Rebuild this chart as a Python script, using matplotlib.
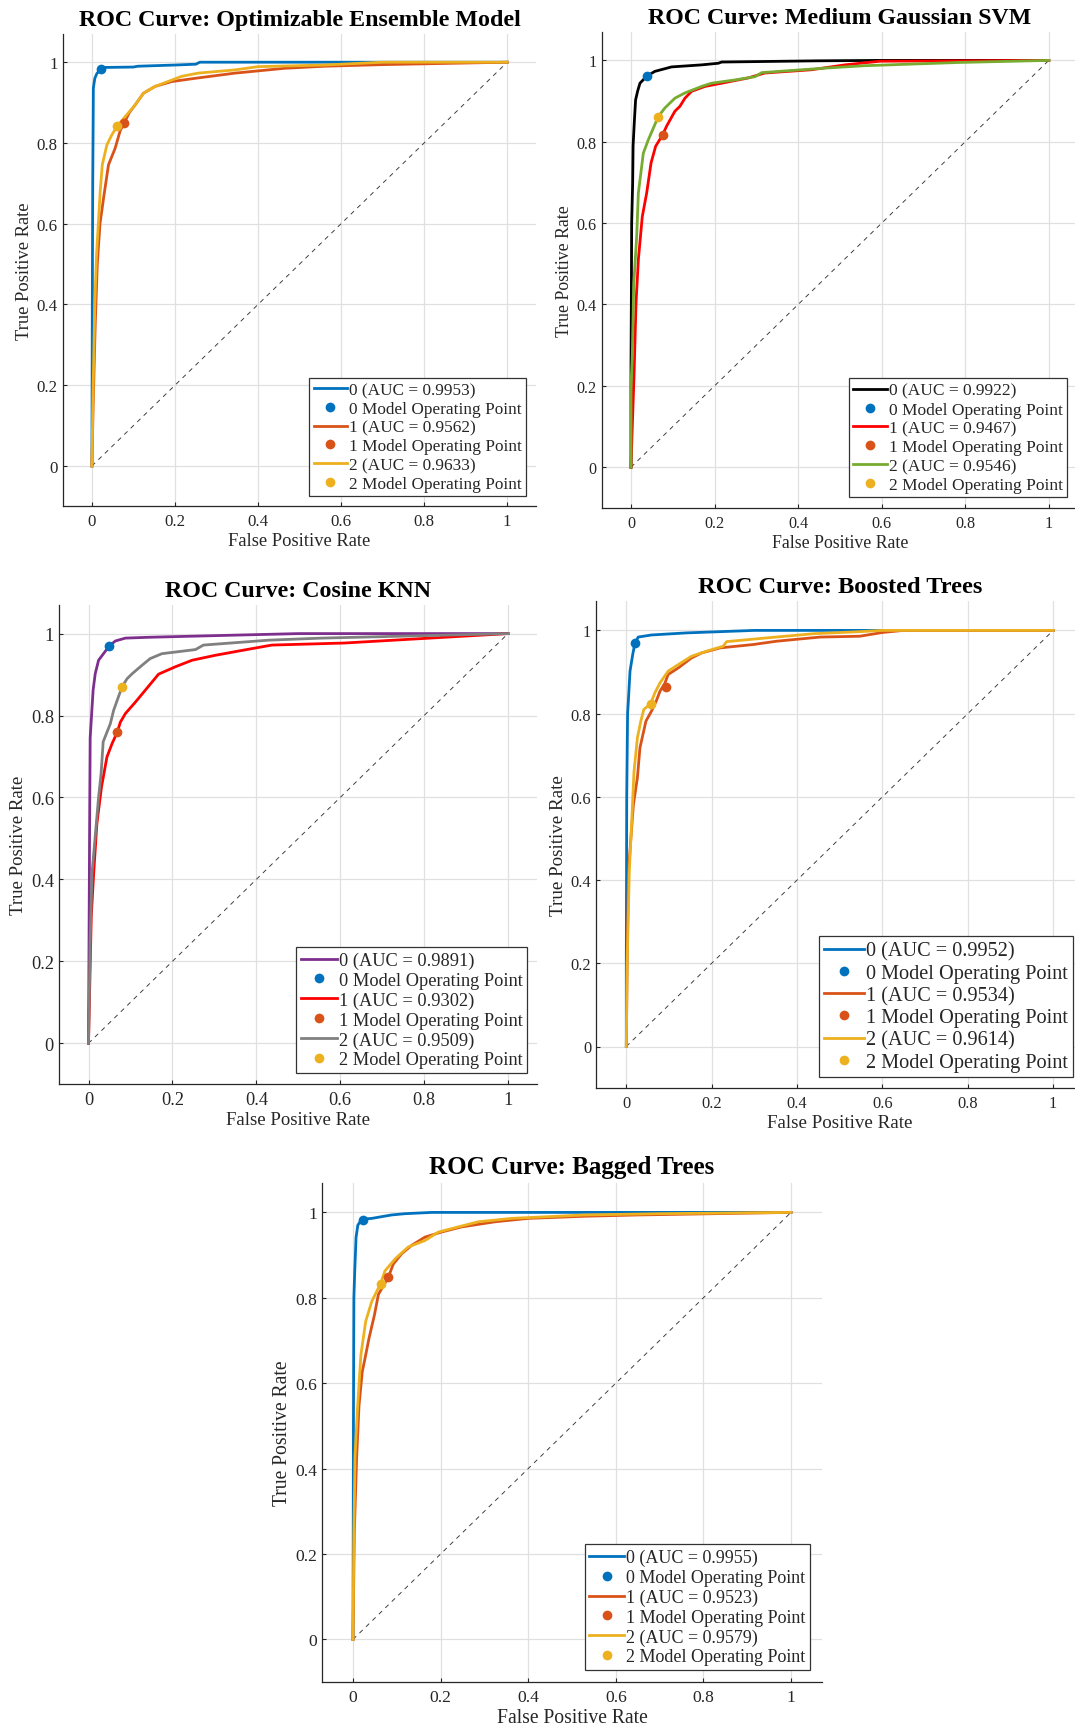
import matplotlib
matplotlib.use("Agg")
import matplotlib.pyplot as plt

plt.rcParams['font.family'] = ['Liberation Serif', 'DejaVu Serif']

# ---------------- data ----------------
titles = ["ROC Curve: Optimizable Ensemble Model", "ROC Curve: Medium Gaussian SVM",
          "ROC Curve: Cosine KNN", "ROC Curve: Boosted Trees", "ROC Curve: Bagged Trees"]
class_names = ["0", "1", "2"]

# Optimizable Ensemble
ens_fpr0 = [0, 0.001, 0.002, 0.003, 0.0035, 0.007, 0.012, 0.021, 0.030, 0.100, 0.110, 0.200, 0.250, 0.260, 1.0]
ens_tpr0 = [0, 0.40, 0.70, 0.85, 0.936, 0.960, 0.972, 0.983, 0.987, 0.988, 0.990, 0.993, 0.995, 1.0, 1.0]
ens_fpr1 = [0, 0.003, 0.008, 0.013, 0.0195, 0.029, 0.040, 0.056, 0.068, 0.078, 0.090, 0.104, 0.124, 0.152, 0.192, 0.248, 0.345, 0.465, 0.560, 0.700, 0.850, 1.0]
ens_tpr1 = [0, 0.15, 0.35, 0.50, 0.60, 0.67, 0.746, 0.787, 0.83, 0.85, 0.875, 0.894, 0.923, 0.94, 0.952, 0.96, 0.973, 0.985, 0.99, 0.994, 0.997, 1.0]
ens_fpr2 = [0, 0.003, 0.007, 0.011, 0.0155, 0.020, 0.025, 0.036, 0.048, 0.061, 0.084, 0.104, 0.124, 0.152, 0.188, 0.216, 0.256, 0.345, 0.40, 0.56, 0.70, 1.0]
ens_tpr2 = [0, 0.2, 0.4, 0.52, 0.60, 0.68, 0.746, 0.795, 0.82, 0.842, 0.87, 0.894, 0.923, 0.94, 0.954, 0.965, 0.973, 0.981, 0.989, 0.993, 1.0, 1.0]
ens_auc = [0.9953, 0.9562, 0.9633]
ens_op_fpr = [0.021, 0.078, 0.061]
ens_op_tpr = [0.983, 0.850, 0.842]

# Medium Gaussian SVM
svm_fpr0 = [0, 0, 0.0008, 0.0016, 0.004, 0.005, 0.008, 0.011, 0.016, 0.0215, 0.0375, 0.057, 0.097, 0.169, 0.209, 0.217, 0.45, 0.60, 1.0]
svm_tpr0 = [0, 0.25, 0.40, 0.60, 0.70, 0.79, 0.85, 0.903, 0.925, 0.944, 0.961, 0.973, 0.984, 0.989, 0.993, 0.996, 0.999, 1.0, 1.0]
svm_fpr1 = [0, 0.003, 0.0074, 0.012, 0.0176, 0.027, 0.0375, 0.048, 0.059, 0.0758, 0.085, 0.105, 0.117, 0.129, 0.145, 0.177, 0.217, 0.281, 0.32, 0.432, 0.512, 0.596, 1.0]
svm_tpr1 = [0, 0.097, 0.23, 0.403, 0.51, 0.616, 0.674, 0.748, 0.789, 0.817, 0.838, 0.875, 0.887, 0.907, 0.924, 0.936, 0.944, 0.957, 0.969, 0.977, 0.989, 0.998, 1.0]
svm_fpr2 = [0, 0, 0.003, 0.0056, 0.0066, 0.0136, 0.0176, 0.0295, 0.0415, 0.0654, 0.081, 0.105, 0.129, 0.169, 0.193, 0.249, 0.297, 0.313, 0.464, 0.56, 0.787, 1.0]
svm_tpr2 = [0, 0.2, 0.27, 0.403, 0.45, 0.567, 0.674, 0.772, 0.805, 0.862, 0.883, 0.907, 0.92, 0.936, 0.944, 0.952, 0.96, 0.97, 0.981, 0.987, 0.995, 1.0]
svm_auc = [0.9922, 0.9467, 0.9546]
svm_op_fpr = [0.0375, 0.0758, 0.0654]
svm_op_tpr = [0.961, 0.817, 0.862]

# Cosine KNN
knn_fpr0 = [0, 0.0025, 0.004, 0.011, 0.016, 0.024, 0.0497, 0.064, 0.088, 0.143, 0.30, 0.50, 1.0]
knn_tpr0 = [0, 0.5, 0.746, 0.862, 0.902, 0.935, 0.970, 0.982, 0.989, 0.991, 0.995, 1.0, 1.0]
knn_fpr1 = [0, 0.0066, 0.0123, 0.020, 0.031, 0.044, 0.056, 0.0687, 0.076, 0.088, 0.112, 0.167, 0.207, 0.247, 0.302, 0.366, 0.437, 0.61, 1.0]
knn_tpr1 = [0, 0.31, 0.414, 0.536, 0.626, 0.699, 0.731, 0.76, 0.784, 0.805, 0.833, 0.901, 0.919, 0.935, 0.947, 0.959, 0.972, 0.977, 1.0]
knn_fpr2 = [0, 0.004, 0.0083, 0.024, 0.030, 0.035, 0.052, 0.060, 0.0799, 0.092, 0.104, 0.128, 0.147, 0.175, 0.207, 0.255, 0.274, 0.326, 0.43, 0.556, 1.0]
knn_tpr2 = [0, 0.25, 0.414, 0.60, 0.658, 0.736, 0.78, 0.813, 0.87, 0.89, 0.902, 0.923, 0.939, 0.951, 0.955, 0.961, 0.972, 0.976, 0.984, 0.989, 1.0]
knn_auc = [0.9891, 0.9302, 0.9509]
knn_op_fpr = [0.0497, 0.0687, 0.0799]
knn_op_tpr = [0.970, 0.760, 0.870]

# Boosted Trees
bst_fpr0 = [0, 0, 0.001, 0.003, 0.0048, 0.0087, 0.015, 0.0204, 0.028, 0.059, 0.141, 0.30, 1.0]
bst_tpr0 = [0, 0.2, 0.6, 0.8, 0.83, 0.902, 0.942, 0.97, 0.984, 0.989, 0.994, 1.0, 1.0]
bst_fpr1 = [0, 0.002, 0.005, 0.0165, 0.026, 0.032, 0.046, 0.059, 0.07, 0.079, 0.09, 0.098, 0.122, 0.153, 0.177, 0.22, 0.297, 0.352, 0.454, 0.547, 0.60, 0.649, 1.0]
bst_tpr1 = [0, 0.2, 0.42, 0.58, 0.646, 0.718, 0.782, 0.806, 0.83, 0.854, 0.872, 0.894, 0.91, 0.934, 0.946, 0.958, 0.966, 0.974, 0.984, 0.986, 0.995, 1.0, 1.0]
bst_fpr2 = [0, 0.002, 0.007, 0.0126, 0.018, 0.026, 0.034, 0.041, 0.057, 0.067, 0.079, 0.098, 0.122, 0.153, 0.188, 0.227, 0.235, 0.329, 0.438, 0.547, 0.60, 1.0]
bst_tpr2 = [0, 0.2, 0.42, 0.54, 0.66, 0.742, 0.782, 0.81, 0.824, 0.85, 0.874, 0.902, 0.918, 0.938, 0.95, 0.962, 0.973, 0.982, 0.992, 0.997, 1.0, 1.0]
bst_auc = [0.9952, 0.9534, 0.9614]
bst_op_fpr = [0.0204, 0.0923, 0.057]
bst_op_tpr = [0.970, 0.863, 0.824]

# Bagged Trees
bag_fpr0 = [0, 0.001, 0.002, 0.004, 0.007, 0.011, 0.020, 0.043, 0.088, 0.119, 0.18, 1.0]
bag_tpr0 = [0, 0.5, 0.8, 0.863, 0.942, 0.97, 0.984, 0.986, 0.994, 0.997, 1.0, 1.0]
bag_fpr1 = [0, 0.003, 0.0084, 0.0137, 0.021, 0.029, 0.0365, 0.049, 0.058, 0.0806, 0.092, 0.111, 0.134, 0.164, 0.202, 0.248, 0.324, 0.40, 0.529, 0.65, 1.0]
bag_tpr1 = [0, 0.25, 0.428, 0.547, 0.626, 0.666, 0.705, 0.76, 0.808, 0.848, 0.879, 0.903, 0.923, 0.942, 0.954, 0.966, 0.978, 0.986, 0.991, 0.994, 1.0]
bag_fpr2 = [0, 0.002, 0.0046, 0.0106, 0.018, 0.029, 0.043, 0.063, 0.073, 0.096, 0.126, 0.164, 0.195, 0.24, 0.286, 0.362, 0.529, 0.70, 1.0]
bag_tpr2 = [0, 0.25, 0.428, 0.547, 0.666, 0.745, 0.792, 0.833, 0.863, 0.891, 0.919, 0.934, 0.954, 0.966, 0.978, 0.986, 0.994, 0.997, 1.0]
bag_auc = [0.9955, 0.9523, 0.9579]
bag_op_fpr = [0.022, 0.0806, 0.063]
bag_op_tpr = [0.983, 0.848, 0.833]

tick_vals = [0, 0.2, 0.4, 0.6, 0.8, 1]
tick_labels = ["0", "0.2", "0.4", "0.6", "0.8", "1"]

# ---------------- styling / layout ----------------
BLUE, ORANGE, YELLOW = "#0072BD", "#D95319", "#EDB120"
op_colors = [BLUE, ORANGE, YELLOW]
AX = "#262626"

W, H = 1075, 1733
fig = plt.figure(figsize=(W / 100, H / 100), dpi=100)

panels = [
    dict(title=titles[0], fprs=[ens_fpr0, ens_fpr1, ens_fpr2], tprs=[ens_tpr0, ens_tpr1, ens_tpr2],
         auc=ens_auc, opx=ens_op_fpr, opy=ens_op_tpr, colors=[BLUE, ORANGE, YELLOW],
         px=(91.9, 507.2, 467.0, 63.2), leg=(526, 497), fs_leg=12.4, fs_tick=12.2, fs_lab=13.3, fs_title=17.3),
    dict(title=titles[1], fprs=[svm_fpr0, svm_fpr1, svm_fpr2], tprs=[svm_tpr0, svm_tpr1, svm_tpr2],
         auc=svm_auc, opx=svm_op_fpr, opy=svm_op_tpr, colors=["#000000", "#FF0000", "#77AC30"],
         px=(631.0, 1048.8, 468.2, 61.4), leg=(1067, 498), fs_leg=12.5, fs_tick=11.6, fs_lab=12.8, fs_title=17.2),
    dict(title=titles[2], fprs=[knn_fpr0, knn_fpr1, knn_fpr2], tprs=[knn_tpr0, knn_tpr1, knn_tpr2],
         auc=knn_auc, opx=knn_op_fpr, opy=knn_op_tpr, colors=["#7E2F8E", "#FF0000", "#808080"],
         px=(88.5, 508.0, 1044.3, 634.6), leg=(527, 1074), fs_leg=13.2, fs_tick=13.2, fs_lab=13.5, fs_title=17.3),
    dict(title=titles[3], fprs=[bst_fpr0, bst_fpr1, bst_fpr2], tprs=[bst_tpr0, bst_tpr1, bst_tpr2],
         auc=bst_auc, opx=bst_op_fpr, opy=bst_op_tpr, colors=[BLUE, ORANGE, YELLOW],
         px=(626.3, 1053.2, 1047.5, 631.4), leg=(1073, 1078), fs_leg=14.6, fs_tick=11.8, fs_lab=13.7, fs_title=17.6),
    dict(title=titles[4], fprs=[bag_fpr0, bag_fpr1, bag_fpr2], tprs=[bag_tpr0, bag_tpr1, bag_tpr2],
         auc=bag_auc, opx=bag_op_fpr, opy=bag_op_tpr, colors=[BLUE, ORANGE, YELLOW],
         px=(353.0, 791.0, 1640.4, 1213.4), leg=(810, 1671), fs_leg=13.0, fs_tick=12.6, fs_lab=14.1, fs_title=18.0),
]

for p in panels:
    x0, x1, y0, y1 = p["px"]
    ux, uy = x1 - x0, y0 - y1
    left = x0 - 0.07 * ux
    bottom_px = y0 + 0.10 * uy
    ax = fig.add_axes([left / W, 1 - bottom_px / H, 1.14 * ux / W, 1.17 * uy / H])
    ax.set_xlim(-0.07, 1.07)
    ax.set_ylim(-0.10, 1.07)
    ax.set_axisbelow(True)
    ax.grid(True, color="#E0E0E0", lw=0.9)
    for s in ["top", "right"]:
        ax.spines[s].set_visible(False)
    for s in ["left", "bottom"]:
        ax.spines[s].set_color(AX)
        ax.spines[s].set_linewidth(0.9)
    ax.set_xticks(tick_vals)
    ax.set_xticklabels(tick_labels)
    ax.set_yticks(tick_vals)
    ax.set_yticklabels(tick_labels)
    ax.tick_params(direction="in", length=3, width=0.8, colors=AX, labelsize=p["fs_tick"])
    ax.tick_params(axis="x", pad=5)
    ax.tick_params(axis="y", pad=3.7)

    ax.plot([0, 1], [0, 1], color="#333333", lw=0.65, dashes=(5, 5), zorder=2)
    for i in range(3):
        ax.plot(p["fprs"][i], p["tprs"][i], color=p["colors"][i], lw=2.0, zorder=3,
                solid_joinstyle="round", label=f"{class_names[i]} (AUC = {p['auc'][i]:.4f})")
        ax.plot([p["opx"][i]], [p["opy"][i]], "o", color=op_colors[i], ms=7, mec="none", zorder=5,
                label=f"{class_names[i]} Model Operating Point")

    ax.set_title(p["title"], fontsize=p["fs_title"], fontweight="bold", pad=6.5, color="black")
    ax.set_xlabel("False Positive Rate", fontsize=p["fs_lab"], color=AX, labelpad=2)
    ax.set_ylabel("True Positive Rate", fontsize=p["fs_lab"], color=AX, labelpad=2.5)

    lx, ly = p["leg"]
    leg = ax.legend(loc="lower right", bbox_to_anchor=(lx / W, 1 - ly / H), bbox_transform=fig.transFigure,
                    borderaxespad=0, fontsize=p["fs_leg"], handlelength=1.95, handletextpad=0.1,
                    borderpad=0.25, labelspacing=0.15, fancybox=False, framealpha=1, edgecolor="#333333")
    leg.get_frame().set_linewidth(0.9)
    for t in leg.get_texts():
        t.set_color(AX)

fig.savefig("out.png", dpi=100, facecolor="white")
